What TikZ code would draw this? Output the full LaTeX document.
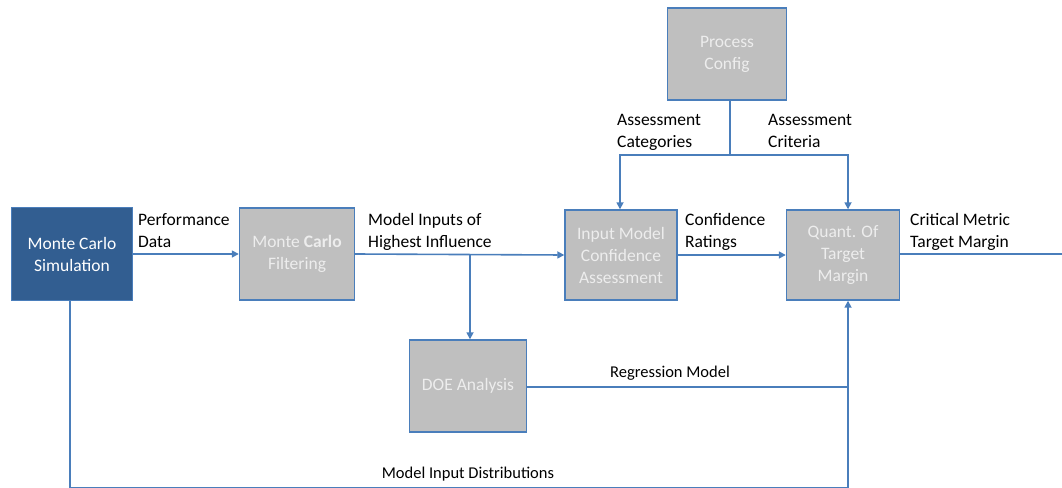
\documentclass[tikz,border=0pt]{standalone}
\usepackage{fontspec}
\setmainfont{Carlito}
\usetikzlibrary{arrows.meta}
\definecolor{linkblue}{RGB}{74,126,187}
\definecolor{darkbox}{RGB}{50,94,145}
\definecolor{greybox}{RGB}{191,191,191}
\tikzset{
  block/.style={draw=linkblue, line width=1.4pt, fill=greybox, text=white!93!black, align=center, inner sep=0pt},
  flow/.style={draw=linkblue, line width=1.6pt},
  tip/.style={-{Triangle[length=7pt,width=7pt]}},
  note/.style={align=left, anchor=north west, inner sep=0pt}
}
\begin{document}
\begin{tikzpicture}[x=1pt, y=-1pt, font=\fontsize{17.5}{22}\selectfont]
                        \useasboundingbox (0, 0) rectangle (1062, 487);
                        \clip (0, 0) rectangle (1062, 487);
                        \node [block, fill=darkbox, text=white, minimum width=121pt, minimum height=93pt] (mcs) at (72, 254) {Monte Carlo\\Simulation};
                        \node [block, minimum width=115pt, minimum height=92pt] (mcf) at (297, 254) {Monte \textbf{Carlo}\\Filtering};
                        \node [block, minimum width=119pt, minimum height=92pt] (pc) at (727, 54) {Process\\Config};
                        \node [block, minimum width=112pt, minimum height=90pt] (imca) at (621, 255) {Input Model\\Confidence\\Assessment};
                        \node [block, minimum width=113pt, minimum height=90pt] (qtm) at (843, 255) {Quant. Of\\Target\\Margin};
                        \node [block, minimum width=117pt, minimum height=92pt] (doe) at (468, 386) {DOE Analysis};
                        \coordinate (split) at (730, 155);
                        \coordinate (catL) at (620, 155);
                        \coordinate (catR) at (848, 155);
                        \coordinate (branch) at (470, 255);
                        \coordinate (regjoin) at (848, 387);
                        \coordinate (botL) at (70, 487.5);
                        \coordinate (botR) at (848, 487.5);
                        \coordinate (outR) at (1062, 254);
                        \draw [flow, tip] (mcs.east) -- (mcf.west);
                        \draw [flow, tip] (mcf.east) -- (imca.west);
                        \draw [flow, tip] (branch) -- (branch |- doe.north);
                        \draw [flow, tip] (imca.east) -- (qtm.west);
                        \draw [flow] (pc.south -| split) -- (split);
                        \draw [flow, tip] (split) -- (catL) -- (catL |- imca.north);
                        \draw [flow, tip] (split) -- (catR) -- (catR |- qtm.north);
                        \draw [flow] (doe.east |- regjoin) -- (regjoin);
                        \draw [flow, tip] (mcs.south -| botL) -- (botL) -- (botR) -- (botR |- qtm.south);
                        \draw [flow] (qtm.east |- outR) -- (outR);
                        \node [note] (perf) at (138, 213) {Performance\\Data};
                        \node [note] (infl) at (368, 213) {Model Inputs of\\Highest Influence};
                        \node [note] (cat) at (617, 114) {Assessment\\Categories};
                        \node [note] (crit) at (768, 114) {Assessment\\Criteria};
                        \node [note] (rate) at (685, 213) {Confidence\\Ratings};
                        \node [note] (metric) at (910, 213) {Critical Metric\\Target Margin};
                        \node [font=\fontsize{16.5}{20}\selectfont] (reg) at (670, 373) {Regression Model};
                        \node [font=\fontsize{16.5}{20}\selectfont] (dist) at (468, 474) {Model Input Distributions};
                    \end{tikzpicture}
\end{document}
